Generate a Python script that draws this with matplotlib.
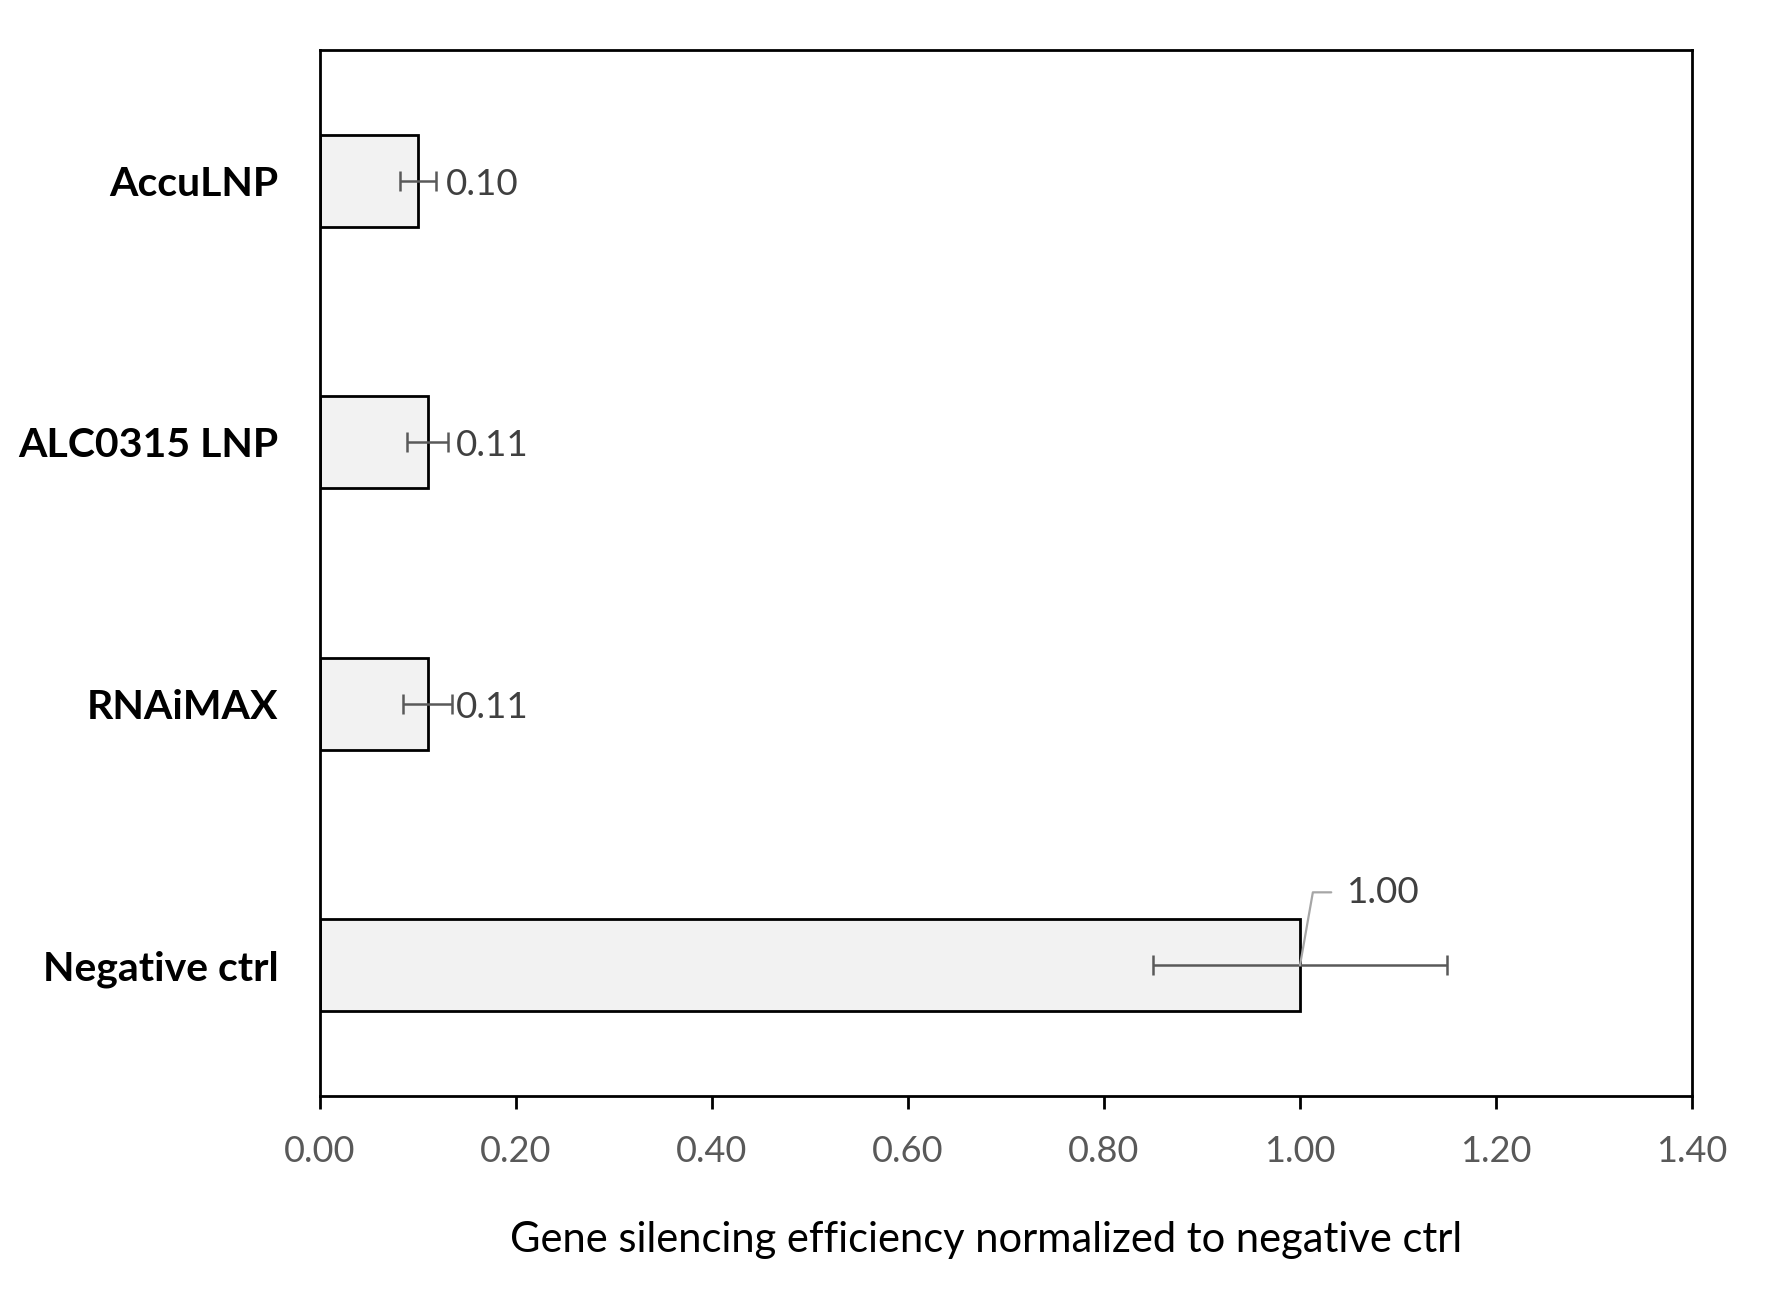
import matplotlib
matplotlib.use("Agg")
import matplotlib.pyplot as plt
import numpy as np

plt.rcParams['font.family'] = ['Lato', 'DejaVu Sans']

categories = ["Negative ctrl", "RNAiMAX", "ALC0315 LNP", "AccuLNP"]
values = [1.00, 0.11, 0.11, 0.10]
errors = [0.15, 0.025, 0.021, 0.018]
labels = ["1.00", "0.11", "0.11", "0.10"]
xticks = [0.0, 0.2, 0.4, 0.6, 0.8, 1.0, 1.2, 1.4]
xlabel = "Gene silencing efficiency normalized to negative ctrl"

W, H, DPI = 1779, 1301, 100
fig = plt.figure(figsize=(W / DPI, H / DPI), dpi=DPI)
ax = fig.add_axes([320 / W, 1 - 1096 / H, (1692 - 320) / W, (1096 - 50) / H])

y = np.arange(len(categories))
ax.barh(y, values, height=0.35, color="#f2f2f2", edgecolor="black", linewidth=2.0, zorder=2)
ax.errorbar(values, y, xerr=errors, fmt="none", ecolor="#595959", elinewidth=1.8,
            capsize=7.2, capthick=1.8, zorder=3)

ax.set_xlim(0, 1.4)
ax.set_ylim(-0.5, len(categories) - 0.5)
ax.set_xticks(xticks)
ax.set_xticklabels([f"{t:.2f}" for t in xticks], fontsize=26, color="#595959")
ax.set_yticks(y)
ax.set_yticklabels(categories, fontsize=29.5, fontweight="bold", color="black")
ax.tick_params(axis="y", length=0, pad=30)
ax.tick_params(axis="x", direction="out", length=9, width=2, color="black", pad=19)
for s in ax.spines.values():
    s.set_linewidth(2.0)
    s.set_color("black")

ax.set_xlabel(xlabel, fontsize=30, color="black", va="center")
ax.xaxis.set_label_coords((986 - 320) / 1372, -(1240 - 1096) / 1046)

for i, (v, lab) in enumerate(zip(values, labels)):
    if i == 0:
        ax.annotate(lab, xy=(v, i), xytext=(33.5, 52.5), textcoords="offset points",
                    ha="left", va="center", fontsize=26.5, color="#404040",
                    arrowprops=dict(arrowstyle="-", color="#a6a6a6", lw=1.6,
                                    relpos=(0, 0.5), shrinkA=9, shrinkB=0,
                                    connectionstyle="angle,angleA=180,angleB=80,rad=0"))
    else:
        ax.annotate(lab, xy=(v, i), xytext=(20, -2.5), textcoords="offset points",
                    ha="left", va="center", fontsize=26.5, color="#404040")

fig.savefig("out.png", dpi=DPI)
